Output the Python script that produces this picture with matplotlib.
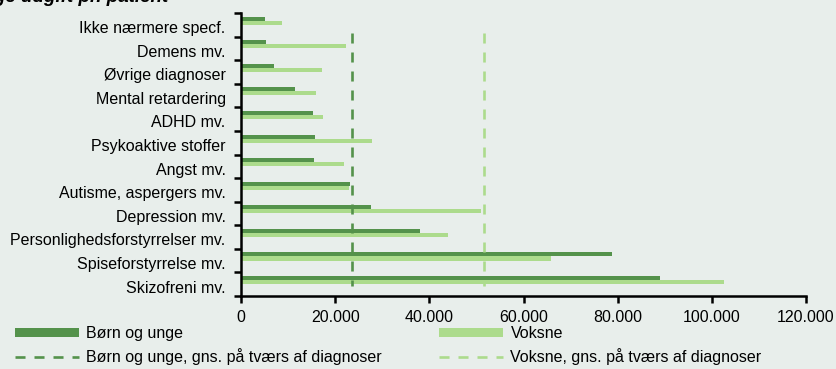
import matplotlib.pyplot as plt
from matplotlib.patches import Patch
from matplotlib.lines import Line2D

# Udgift pr. patient fordelt på diagnosegrupper
diagnoser = [
    "Ikke nærmere specf.",
    "Demens mv.",
    "Øvrige diagnoser",
    "Mental retardering",
    "ADHD mv.",
    "Psykoaktive stoffer",
    "Angst mv.",
    "Autisme, aspergers mv.",
    "Depression mv.",
    "Personlighedsforstyrrelser mv.",
    "Spiseforstyrrelse mv.",
    "Skizofreni mv.",
]
boern_unge = [5000, 5300, 7000, 11500, 15300, 15800, 15500, 23100, 27600, 38000, 78900, 89000]
voksne = [8700, 22200, 17200, 16000, 17400, 27800, 21900, 23000, 51000, 44000, 65900, 102600]
gns_boern_unge = 23500
gns_voksne = 51600

x_ticks = [0, 20000, 40000, 60000, 80000, 100000, 120000]
x_ticklabels = ["0", "20.000", "40.000", "60.000", "80.000", "100.000", "120.000"]

BG = "#e8eeeb"
DARK = "#54924b"
LIGHT = "#acdb8c"

plt.rcParams["font.family"] = ["Liberation Sans", "DejaVu Sans"]
plt.rcParams["font.size"] = 11.5

fig = plt.figure(figsize=(8.37, 3.69), dpi=100, facecolor=BG)
ax = fig.add_axes([241 / 837, 1 - 296 / 369, 565 / 837, 283 / 369])
ax.set_facecolor(BG)

pos = list(range(len(diagnoser)))
bar_h = 0.17
ax.barh([p - 0.26 for p in pos], boern_unge, height=bar_h, color=DARK)
ax.barh([p - 0.09 for p in pos], voksne, height=bar_h, color=LIGHT)

# Gennemsnit på tværs af diagnoser
line_span = [0.36, 11.08]
ax.plot([gns_boern_unge] * 2, line_span, color=DARK, lw=1.9, dashes=(3.8, 3.4))
ax.plot([gns_voksne] * 2, line_span, color=LIGHT, lw=1.9, dashes=(3.8, 3.4))

ax.set_xlim(0, 120000)
ax.set_ylim(len(diagnoser) - 0.5, -0.5)
ax.set_xticks(x_ticks)
ax.set_xticklabels(x_ticklabels)

# Kategorigrænser som hovedstreger, navne som usynlige hjælpestreger
ax.set_yticks([p - 0.5 for p in range(len(diagnoser) + 1)])
ax.set_yticklabels([])
ax.set_yticks([p + 0.1 for p in pos], minor=True)
ax.set_yticklabels(diagnoser, minor=True)
ax.tick_params(axis="y", which="major", length=5, width=1.8, direction="out")
ax.tick_params(axis="y", which="minor", length=0, pad=11)
ax.tick_params(axis="x", length=5, width=1.8, direction="out", pad=5)

for side in ["top", "right"]:
    ax.spines[side].set_visible(False)
for side in ["left", "bottom"]:
    ax.spines[side].set_linewidth(1.8)
    ax.spines[side].set_color("black")

fig.text(168 / 837, 1 - 1.5 / 369, "Gennemsnitlige udgift pr. patient",
         ha="right", va="baseline", style="italic", fontweight="bold",
         fontsize=13.5)

handles = [
    Patch(facecolor=DARK, edgecolor="none"),
    Line2D([], [], color=DARK, lw=1.9, dashes=(3.8, 3.4)),
    Patch(facecolor=LIGHT, edgecolor="none"),
    Line2D([], [], color=LIGHT, lw=1.9, dashes=(3.8, 3.4)),
]
labels = [
    "Børn og unge",
    "Børn og unge, gns. på tværs af diagnoser",
    "Voksne",
    "Voksne, gns. på tværs af diagnoser",
]
fig.legend(handles, labels, ncol=2, loc="upper left",
           bbox_to_anchor=(4 / 837, 1 - 315 / 369), frameon=False,
           handlelength=4.0, handleheight=0.5, handletextpad=0.45,
           columnspacing=3.6, labelspacing=0.42, borderpad=0.2)

fig.savefig("out.png", dpi=100, facecolor=BG)
